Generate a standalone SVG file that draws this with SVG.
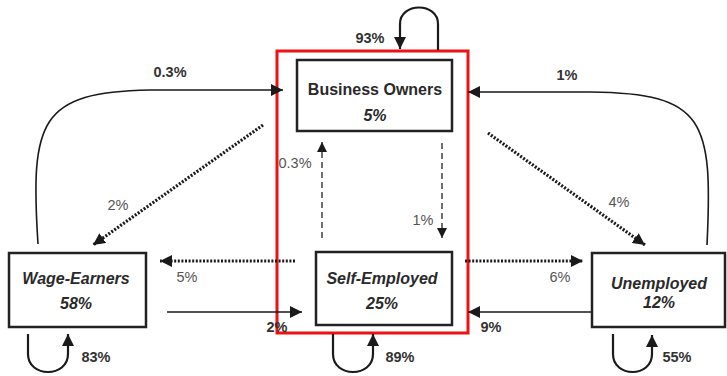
<svg xmlns="http://www.w3.org/2000/svg" width="727" height="376" viewBox="0 0 727 376">
<style>
.box{fill:#fff;stroke:#222;stroke-width:2.5}
.nt{font-family:"Liberation Sans",Arial,sans-serif;font-size:16px;font-weight:bold;fill:#2a2a2a;text-anchor:middle}
.it{font-style:italic}
.lb{font-family:"Liberation Sans",Arial,sans-serif;font-size:14.5px;font-weight:bold;fill:#333;text-anchor:middle}
.lr{font-family:"Liberation Sans",Arial,sans-serif;font-size:14.5px;fill:#555;text-anchor:middle}
.solid{fill:none;stroke:#1a1a1a;stroke-width:1.6}
.loop{fill:none;stroke:#1a1a1a;stroke-width:2.2}
.dot{fill:none;stroke:#1a1a1a;stroke-width:3.2;stroke-dasharray:2 1.6}
.dash{fill:none;stroke:#333;stroke-width:1.4;stroke-dasharray:6 4}
</style>
<defs>
<marker id="ah" viewBox="0 0 10 10" refX="10" refY="5" markerWidth="12" markerHeight="12" markerUnits="userSpaceOnUse" orient="auto"><path d="M0,0 L10,5 L0,10 z" fill="#1a1a1a"/></marker>
<marker id="ahs" viewBox="0 0 10 10" refX="10" refY="5" markerWidth="10" markerHeight="10" markerUnits="userSpaceOnUse" orient="auto"><path d="M0,0 L10,5 L0,10 z" fill="#1a1a1a"/></marker>
</defs>
<rect width="727" height="376" fill="#fff"/>
<rect id="highlight" x="277" y="51" width="191" height="282" fill="none" stroke="#ee1111" stroke-width="3"/>
<g id="connectors">
<path class="solid" d="M38,244 C30,120 40,92 150,90 L283,90" marker-end="url(#ah)"/>
<path class="solid" d="M707,245 C713,120 705,93 590,92 L468,92" marker-end="url(#ah)"/>
<path class="dot" d="M263,125 L93,245" marker-end="url(#ah)"/>
<path class="dot" d="M488,133 L645,245" marker-end="url(#ah)"/>
<path class="dash" d="M442,143 L442,238" marker-end="url(#ahs)"/>
<path class="dash" d="M322,238 L322,142" marker-end="url(#ahs)"/>
<path class="dot" d="M295,261 L160,261" marker-end="url(#ah)"/>
<path class="solid" d="M167,312 L302,312" marker-end="url(#ah)"/>
<path class="dot" d="M465,261 L583,261" marker-end="url(#ah)"/>
<path class="solid" d="M592,312 L468,312" marker-end="url(#ah)"/>
<path class="loop" d="M438,50 L438,24 C438,2 400,2 400,24 L400,49" marker-end="url(#ah)"/>
<path class="loop" d="M28,334 L28,354 C28,378 68,378 68,354 L68,334" marker-end="url(#ah)"/>
<path class="loop" d="M333,334 L333,354 C333,378 373,378 373,354 L373,334" marker-end="url(#ah)"/>
<path class="loop" d="M613,334 L613,354 C613,378 652,378 652,354 L652,335" marker-end="url(#ah)"/>
<text class="lb" x="170" y="77">0.3%</text>
<text class="lb" x="567" y="80">1%</text>
<text class="lr" x="118" y="210">2%</text>
<text class="lr" x="619" y="207">4%</text>
<text class="lr" x="423" y="225">1%</text>
<text class="lr" x="295" y="168">0.3%</text>
<text class="lr" x="187" y="282">5%</text>
<text class="lr" x="560" y="282">6%</text>
<text class="lb" x="277" y="332">2%</text>
<text class="lb" x="491" y="332">9%</text>
<text class="lb" x="370" y="43">93%</text>
<text class="lb" x="96" y="362">83%</text>
<text class="lb" x="400" y="362">89%</text>
<text class="lb" x="677" y="362">55%</text>
</g>
<g id="business-owners">
<rect class="box" x="297" y="60" width="155" height="71"/>
<text class="nt" x="375" y="95">Business Owners</text>
<text class="nt it" x="375" y="121">5%</text>
</g>
<g id="self-employed">
<rect class="box" x="316" y="252" width="136" height="73"/>
<text class="nt it" x="382" y="284">Self-Employed</text>
<text class="nt it" x="382" y="309">25%</text>
</g>
<g id="wage-earners">
<rect class="box" x="9" y="253" width="137" height="74"/>
<text class="nt it" x="76" y="284">Wage-Earners</text>
<text class="nt it" x="76" y="309">58%</text>
</g>
<g id="unemployed">
<rect class="box" x="592" y="253" width="133" height="74"/>
<text class="nt it" x="659" y="289">Unemployed</text>
<text class="nt it" x="659" y="308">12%</text>
</g>
</svg>
